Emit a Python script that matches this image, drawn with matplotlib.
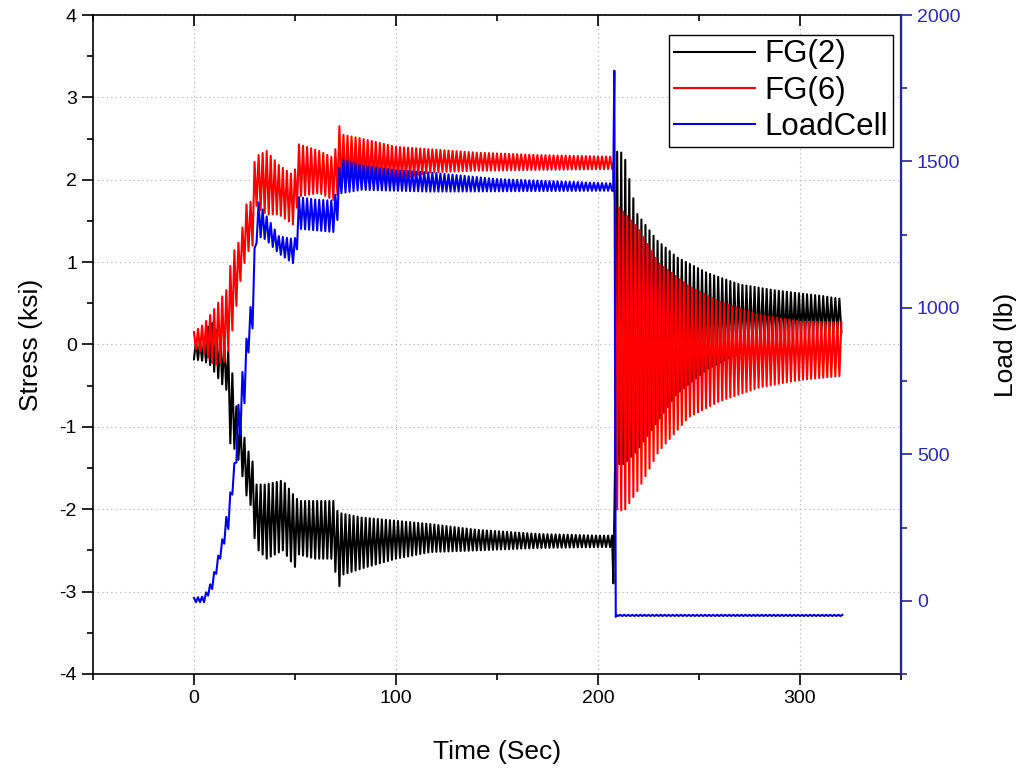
import numpy as np
import matplotlib
matplotlib.use("Agg")
import matplotlib.pyplot as plt
from matplotlib.ticker import MultipleLocator

plt.rcParams['font.family'] = ['Liberation Sans', 'DejaVu Sans']
plt.rcParams['axes.unicode_minus'] = False

# oscillation period seen on all three channels (sec)
period = 2.0

# FG(2) before the release: envelope points (time, lower, upper) in ksi
fg2_t = [0, 5, 8, 13, 16, 18, 21, 24, 27, 29.5, 30.5, 32, 36, 44, 50, 52, 60, 69, 71.5, 73, 83, 100, 117, 140, 170, 200, 207]
fg2_lo = [-0.18, -0.2, -0.25, -0.45, -0.55, -1.2, -1.3, -1.6, -1.95, -1.95, -2.75, -2.5, -2.6, -2.5, -2.7, -2.55,
          -2.6, -2.6, -3.0, -2.8, -2.72, -2.6, -2.52, -2.5, -2.47, -2.46, -2.46]
fg2_hi = [0.05, 0.05, 0.3, 0.1, 0.0, -0.15, -0.75, -1.05, -1.3, -1.45, -1.7, -1.7, -1.7, -1.65, -1.85, -1.9,
          -1.9, -1.9, -2.05, -2.05, -2.1, -2.14, -2.18, -2.25, -2.3, -2.32, -2.32]
# FG(2) after the release
fg2_t2 = [208.5, 210, 213, 219, 229, 239, 254, 270, 287, 300, 311, 321]
fg2_hi2 = [2.3, 2.36, 2.3, 1.6, 1.27, 1.06, 0.87, 0.73, 0.66, 0.62, 0.59, 0.55]
fg2_lo2 = [-1.4, -1.45, -1.45, -1.3, -0.95, -0.6, -0.3, -0.1, 0.0, 0.08, 0.12, 0.15]

# FG(6) before the release
fg6_t = [0, 5, 10, 16, 19, 23, 26, 29, 30.5, 32, 36, 42, 49.5, 52, 62, 69.5, 71.5, 73, 83, 100, 117, 140, 170, 207]
fg6_lo = [-0.05, -0.1, -0.25, -0.2, 0.17, 0.77, 1.1, 1.2, 1.7, 1.65, 1.58, 1.58, 1.45, 1.8, 1.84, 1.75, 1.84, 1.9,
          1.97, 2.0, 2.09, 2.11, 2.12, 2.13]
fg6_hi = [0.15, 0.25, 0.43, 0.66, 1.1, 1.28, 1.7, 1.75, 2.45, 2.3, 2.35, 2.18, 2.05, 2.43, 2.35, 2.26, 2.7, 2.55,
          2.5, 2.4, 2.37, 2.33, 2.3, 2.28]
# FG(6) after the release
fg6_t2 = [208.5, 209, 213, 220, 230, 245, 260, 280, 300, 321]
fg6_hi2 = [1.7, 1.7, 1.6, 1.41, 0.99, 0.71, 0.52, 0.36, 0.28, 0.27]
fg6_lo2 = [-2.0, -2.0, -2.02, -1.76, -1.30, -0.88, -0.69, -0.52, -0.43, -0.38]

# load cell (lb) before the release
lc_t = [0, 5, 9, 14, 17.4, 20, 22, 24.8, 27.3, 29, 30.5, 31.5, 35.5, 42, 49.6, 51, 52, 60, 69.4, 71, 72.5, 83, 100,
        117, 150, 207]
lc_lo = [-5, -5, 40, 170, 255, 430, 514, 657, 874, 930, 1200, 1245, 1234, 1186, 1150, 1200, 1270, 1265, 1259, 1300,
         1391, 1403, 1400, 1397, 1398, 1400]
lc_hi = [10, 15, 70, 210, 340, 470, 669, 826, 970, 1050, 1280, 1366, 1318, 1245, 1234, 1250, 1378, 1370, 1366, 1420,
         1510, 1487, 1470, 1462, 1440, 1425]
# load cell after the release
lc_t2 = [209, 321]
lc_hi2 = [-48, -48]
lc_lo2 = [-52, -52]

# points at the release itself
fg2_rel_t, fg2_rel_v = [207.6], [-2.9]
fg6_rel_t, fg6_rel_v = [207.6], [2.2]
lc_rel_t, lc_rel_v = [207.5, 208.1, 208.8], [1400, 1810, -55]


def trace(t_env, lo, hi, start_hi=True):
    # one peak/trough every half period, taken from the envelope
    t = np.arange(t_env[0], t_env[-1] + 1e-9, period / 2)
    lo_i = np.interp(t, t_env, lo)
    hi_i = np.interp(t, t_env, hi)
    up = (np.arange(len(t)) % 2 == 0) == start_hi
    return t, np.where(up, hi_i, lo_i)


def channel(seg1, rel_t, rel_v, seg2, start_hi):
    t1, v1 = trace(*seg1, start_hi=start_hi)
    t2, v2 = trace(*seg2, start_hi=start_hi)
    return np.concatenate([t1, rel_t, t2]), np.concatenate([v1, rel_v, v2])


t_fg2, v_fg2 = channel((fg2_t, fg2_lo, fg2_hi), fg2_rel_t, fg2_rel_v, (fg2_t2, fg2_lo2, fg2_hi2), False)
t_fg6, v_fg6 = channel((fg6_t, fg6_lo, fg6_hi), fg6_rel_t, fg6_rel_v, (fg6_t2, fg6_lo2, fg6_hi2), True)
t_lc, v_lc = channel((lc_t, lc_lo, lc_hi), lc_rel_t, lc_rel_v, (lc_t2, lc_lo2, lc_hi2), True)

blue_axis = '#23239a'
blue_text = '#2a2ac0'

fig = plt.figure(figsize=(10.16, 7.7), dpi=100)
ax = fig.add_axes([0.0915, 0.1247, 0.7953, 0.8558])
ax2 = ax.twinx()

l1, = ax.plot(t_fg2, v_fg2, color='black', lw=1.5, label='FG(2)')
l2, = ax.plot(t_fg6, v_fg6, color='#ff0000', lw=1.5, label='FG(6)')
l3, = ax2.plot(t_lc, v_lc, color='#0000ee', lw=1.5, label='LoadCell')

ax.set_xlim(-50, 350)
ax.set_ylim(-4, 4)
ax2.set_ylim(-250, 2000)

ax.xaxis.set_major_locator(MultipleLocator(100))
ax.xaxis.set_minor_locator(MultipleLocator(50))
ax.yaxis.set_major_locator(MultipleLocator(1))
ax.yaxis.set_minor_locator(MultipleLocator(0.5))
ax2.yaxis.set_major_locator(MultipleLocator(500))
ax2.yaxis.set_minor_locator(MultipleLocator(250))

ax.grid(True, which='major', linestyle=(0, (1, 3)), color='#aaaaaa', lw=0.8)

ax.tick_params(axis='both', which='both', direction='out', labelsize=14, width=1.2)
ax.tick_params(axis='x', which='both', top=True, right=False)
ax.tick_params(which='major', length=8)
ax.tick_params(which='minor', length=4.5)
ax2.tick_params(axis='y', which='both', direction='out', labelsize=14, colors=blue_axis, labelcolor=blue_text, width=1.2)
ax2.tick_params(which='major', length=8)
ax2.tick_params(which='minor', length=4.5)

# top ticks point inward
for tk in ax.xaxis.get_major_ticks() + ax.xaxis.get_minor_ticks():
    tk.tick2line.set_marker(3)

for sp in ['left', 'bottom', 'top']:
    ax.spines[sp].set_linewidth(1.2)
ax2.spines['right'].set_color(blue_axis)
ax2.spines['right'].set_linewidth(1.6)
for sp in ['left', 'bottom', 'top']:
    ax2.spines[sp].set_visible(False)

ax.set_xlabel('Time (Sec)', fontsize=19, labelpad=24)
ax.set_ylabel('Stress (ksi)', fontsize=19, labelpad=12)
ax2.set_ylabel('Load (lb)', fontsize=19, labelpad=24, rotation=90)

leg = ax.legend(handles=[l1, l2, l3], loc='upper right', bbox_to_anchor=(0.99, 0.97), borderaxespad=0,
                fontsize=22.5, frameon=True, fancybox=False, edgecolor='black', framealpha=1,
                handlelength=2.6, handletextpad=0.3, labelspacing=0.2, borderpad=0.15)
leg.get_frame().set_linewidth(1.0)

fig.savefig('out.png', dpi=100)
